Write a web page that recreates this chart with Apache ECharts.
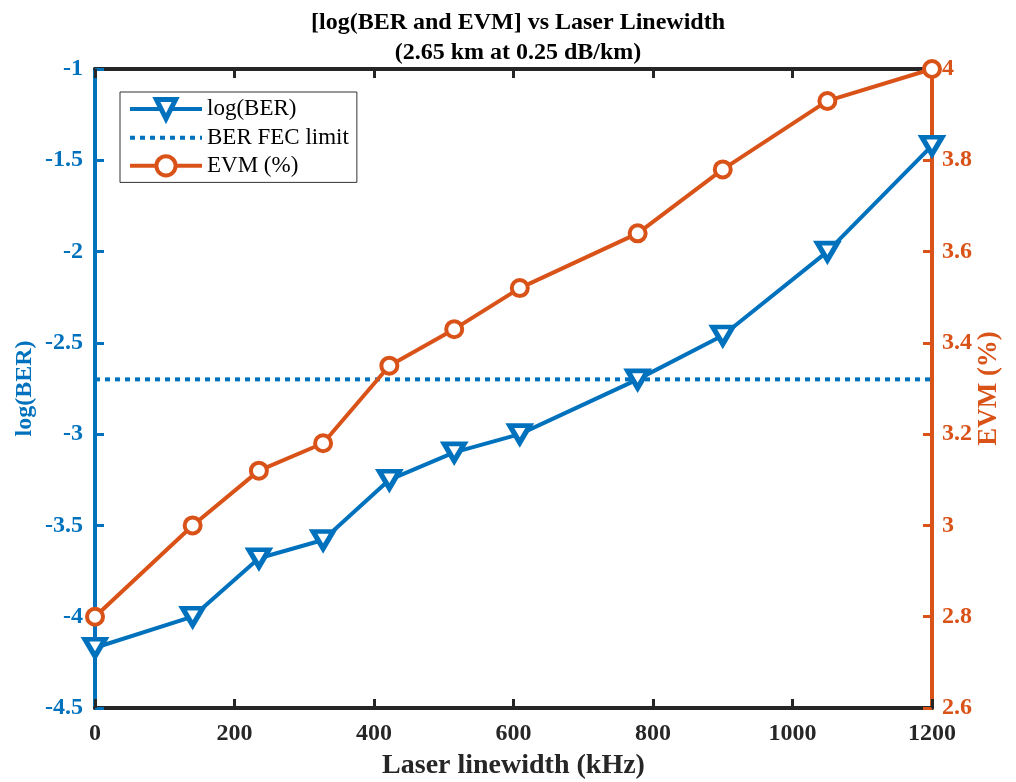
<!DOCTYPE html>
<html>
<head>
<meta charset="utf-8">
<script src="https://cdn.jsdelivr.net/npm/echarts@6/dist/echarts.min.js"></script>
<style>html,body{margin:0;padding:0;background:#fff}#c{width:1016px;height:782px}</style>
</head>
<body>
<div id="c"></div>
<script>
const linewidth = [0, 140, 235, 327, 422, 515, 609, 778, 900, 1050, 1200];
const logBER = [-4.17, -4.0, -3.68, -3.58, -3.25, -3.10, -3.0, -2.70, -2.46, -2.0, -1.42];
const evm = [2.80, 3.00, 3.12, 3.18, 3.35, 3.43, 3.52, 3.64, 3.78, 3.93, 4.00];
const fecLimit = -2.7;
const xRange = [0, 1200];

const BLUE = '#0072BD', ORANGE = '#D95319', FONT = 'Liberation Serif';

const chart = echarts.init(document.getElementById('c'), null, {renderer: 'canvas'});
chart.setOption({
  animation: false,
  backgroundColor: '#fff',
  title: {
    text: '[log(BER and EVM] vs Laser Linewidth\n(2.65 km at 0.25 dB/km)',
    left: 513, top: 3, textAlign: 'center',
    textStyle: {fontFamily: FONT, fontWeight: 'bold', fontSize: 24, color: '#000', lineHeight: 30}
  },
  legend: {
    orient: 'vertical', left: 120, top: 92,
    backgroundColor: '#fff', borderColor: '#333', borderWidth: 1,
    padding: [5, 8, 5, 8], itemGap: 5, itemWidth: 72, itemHeight: 24,
    textStyle: {fontFamily: FONT, fontSize: 23, color: '#000'},
    data: [
      {name: 'log(BER)', lineStyle: {width: 4, color: BLUE}, itemStyle: {color: '#fff', borderColor: BLUE, borderWidth: 5}},
      {name: 'BER FEC limit', lineStyle: {width: 4, color: BLUE, type: [5, 5]}, itemStyle: {opacity: 0}},
      {name: 'EVM (%)', lineStyle: {width: 4, color: ORANGE}, itemStyle: {color: '#fff', borderColor: ORANGE, borderWidth: 4}}
    ]
  },
  grid: {left: 95, right: 84, top: 69, bottom: 74, containLabel: false, outerBoundsMode: 'none'},
  xAxis: [{
    type: 'value', min: xRange[0], max: xRange[1], interval: 200, position: 'bottom',
    name: 'Laser linewidth (kHz)', nameLocation: 'middle', nameGap: 44, nameMoveOverlap: false,
    nameTextStyle: {fontFamily: FONT, fontWeight: 'bold', fontSize: 28, color: '#262626'},
    axisLine: {onZero: false, lineStyle: {color: '#262626', width: 4}},
    axisTick: {inside: true, length: 9, lineStyle: {color: '#262626', width: 3}},
    axisLabel: {fontFamily: FONT, fontWeight: 'bold', fontSize: 24, color: '#262626', margin: 14,
      formatter: v => String(v)},
    splitLine: {show: false}
  }, {
    type: 'value', min: xRange[0], max: xRange[1], interval: 200, position: 'top',
    axisLine: {onZero: false, lineStyle: {color: '#262626', width: 4}},
    axisTick: {inside: true, length: 9, lineStyle: {color: '#262626', width: 3}},
    axisLabel: {show: false}, splitLine: {show: false}
  }],
  yAxis: [{
    type: 'value', min: -4.5, max: -1, interval: 0.5, position: 'left',
    name: 'log(BER)', nameLocation: 'middle', nameGap: 58, nameRotate: 90, nameMoveOverlap: false,
    nameTextStyle: {fontFamily: FONT, fontWeight: 'bold', fontSize: 24, color: BLUE},
    axisLine: {show: true, onZero: false, lineStyle: {color: BLUE, width: 4}},
    axisTick: {show: true, inside: true, length: 9, lineStyle: {color: BLUE, width: 3}},
    axisLabel: {fontFamily: FONT, fontWeight: 'bold', fontSize: 24, color: BLUE, margin: 12},
    splitLine: {show: false}
  }, {
    type: 'value', min: 2.6, max: 4, interval: 0.2, position: 'right',
    name: 'EVM (%)', nameLocation: 'middle', nameGap: 44, nameRotate: 90, nameMoveOverlap: false,
    nameTextStyle: {fontFamily: FONT, fontWeight: 'bold', fontSize: 27, color: ORANGE},
    axisLine: {show: true, onZero: false, lineStyle: {color: ORANGE, width: 4}},
    axisTick: {show: true, inside: true, length: 9, lineStyle: {color: ORANGE, width: 3}},
    axisLabel: {fontFamily: FONT, fontWeight: 'bold', fontSize: 24, color: ORANGE, margin: 10},
    splitLine: {show: false}
  }],
  series: [{
    name: 'BER FEC limit', type: 'line', xAxisIndex: 0, yAxisIndex: 0,
    data: [[xRange[0], fecLimit], [xRange[1], fecLimit]],
    symbol: 'none', showSymbol: false,
    lineStyle: {color: BLUE, width: 4, type: [5, 5]},
    itemStyle: {color: BLUE}, z: 2
  }, {
    name: 'log(BER)', type: 'line', xAxisIndex: 0, yAxisIndex: 0,
    data: linewidth.map((x, i) => [x, logBER[i]]),
    symbol: 'triangle', symbolRotate: 180, symbolSize: [20, 17],
    lineStyle: {color: BLUE, width: 4},
    itemStyle: {color: '#fff', borderColor: BLUE, borderWidth: 5},
    z: 3
  }, {
    name: 'EVM (%)', type: 'line', xAxisIndex: 0, yAxisIndex: 1,
    data: linewidth.map((x, i) => [x, evm[i]]),
    symbol: 'circle', symbolSize: 16,
    lineStyle: {color: ORANGE, width: 4},
    itemStyle: {color: '#fff', borderColor: ORANGE, borderWidth: 4},
    z: 4
  }]
});
</script>
</body>
</html>
